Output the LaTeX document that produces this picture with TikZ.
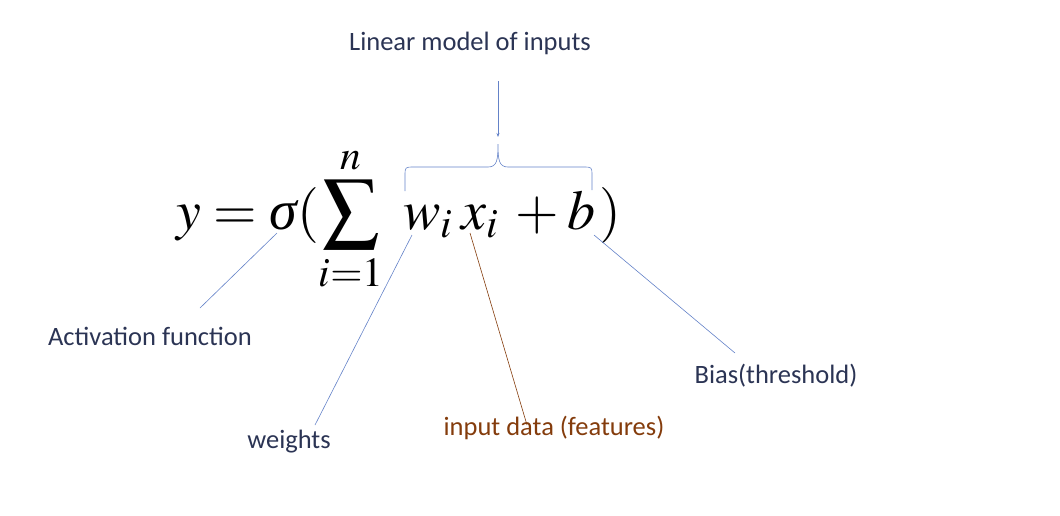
\documentclass[tikz,border=0pt]{standalone}
\usepackage{mathptmx}
\usepackage[no-math]{fontspec}
\setmainfont{Carlito}
\newfontfamily\eqfont{Liberation Serif}
\usetikzlibrary{arrows.meta}

\definecolor{navytext}{RGB}{43,52,84}
\definecolor{pointer}{RGB}{100,130,200}
\definecolor{rust}{RGB}{132,60,12}

\newcommand{\itsigma}{\mbox{\eqfont\itshape σ}}

\begin{document}
\begin{tikzpicture}[
    x=1pt, y=-1pt,
    >={Stealth[length=4pt,width=3pt]},
    label/.style={font=\fontsize{26.5}{30}\selectfont, text=navytext, inner sep=0pt},
    eqn/.style={font=\fontsize{56}{66}\selectfont, inner sep=0pt},
    lead/.style={draw=pointer, line width=0.6pt},
    brownlead/.style={draw=rust, line width=0.6pt}
]
\useasboundingbox (0,0) rectangle (1060,515);

% --------------------------------------------------------------------------
% The neuron equation and the points that the labels point at.
% --------------------------------------------------------------------------
\node[eqn, anchor=base west] (eq) at (176,229)
    {$\displaystyle y = \itsigma(\sum_{i=1}^{n}\mskip4.5mu w_i\mskip2.7mu x_i\mskip3.1mu + \mskip0.2mu b\mskip1.2mu)$};

\coordinate (sigmapt) at (277,233);
\coordinate (wpt) at (412,235);
\coordinate (xpt) at (470,233);
\coordinate (bpt) at (594,235);
\coordinate (bracetip) at (498,144);

% Labels.
\node[label] (linear) at (470,43) {Linear model of inputs};
\node[label] (act) at (150,336) {Activation function};
\node[label] (wts) at (289,442) {weights};
\node[label, text=rust] (feat) at (554,428) {input data (features)};
\node[label] (bias) at (776,376) {Bias(threshold)};

% Free ends of the leader lines.
\coordinate (arrtop) at (498,81);
\coordinate (arrend) at (498,137);
\coordinate (actend) at (200,308);
\coordinate (wtsend) at (315,425);
\coordinate (featend) at (527,425);
\coordinate (biasend) at (735,353);

% Brace over the linear part.
\draw[lead] (405,191) -- (405,176) .. controls (405,167) .. (414,167)
    -- (488,167) .. controls (497,167) and (498,160) .. (bracetip)
    .. controls (498,160) and (499,167) .. (508,167)
    -- (583,167) .. controls (592,167) .. (592,176) -- (592,190);

% Leader lines.
\draw[lead, ->] (arrtop) -- (arrend);
\draw[lead] (sigmapt) -- (actend);
\draw[lead] (wpt) -- (wtsend);
\draw[brownlead] (xpt) -- (featend);
\draw[lead] (bpt) -- (biasend);

\end{tikzpicture}
\end{document}
